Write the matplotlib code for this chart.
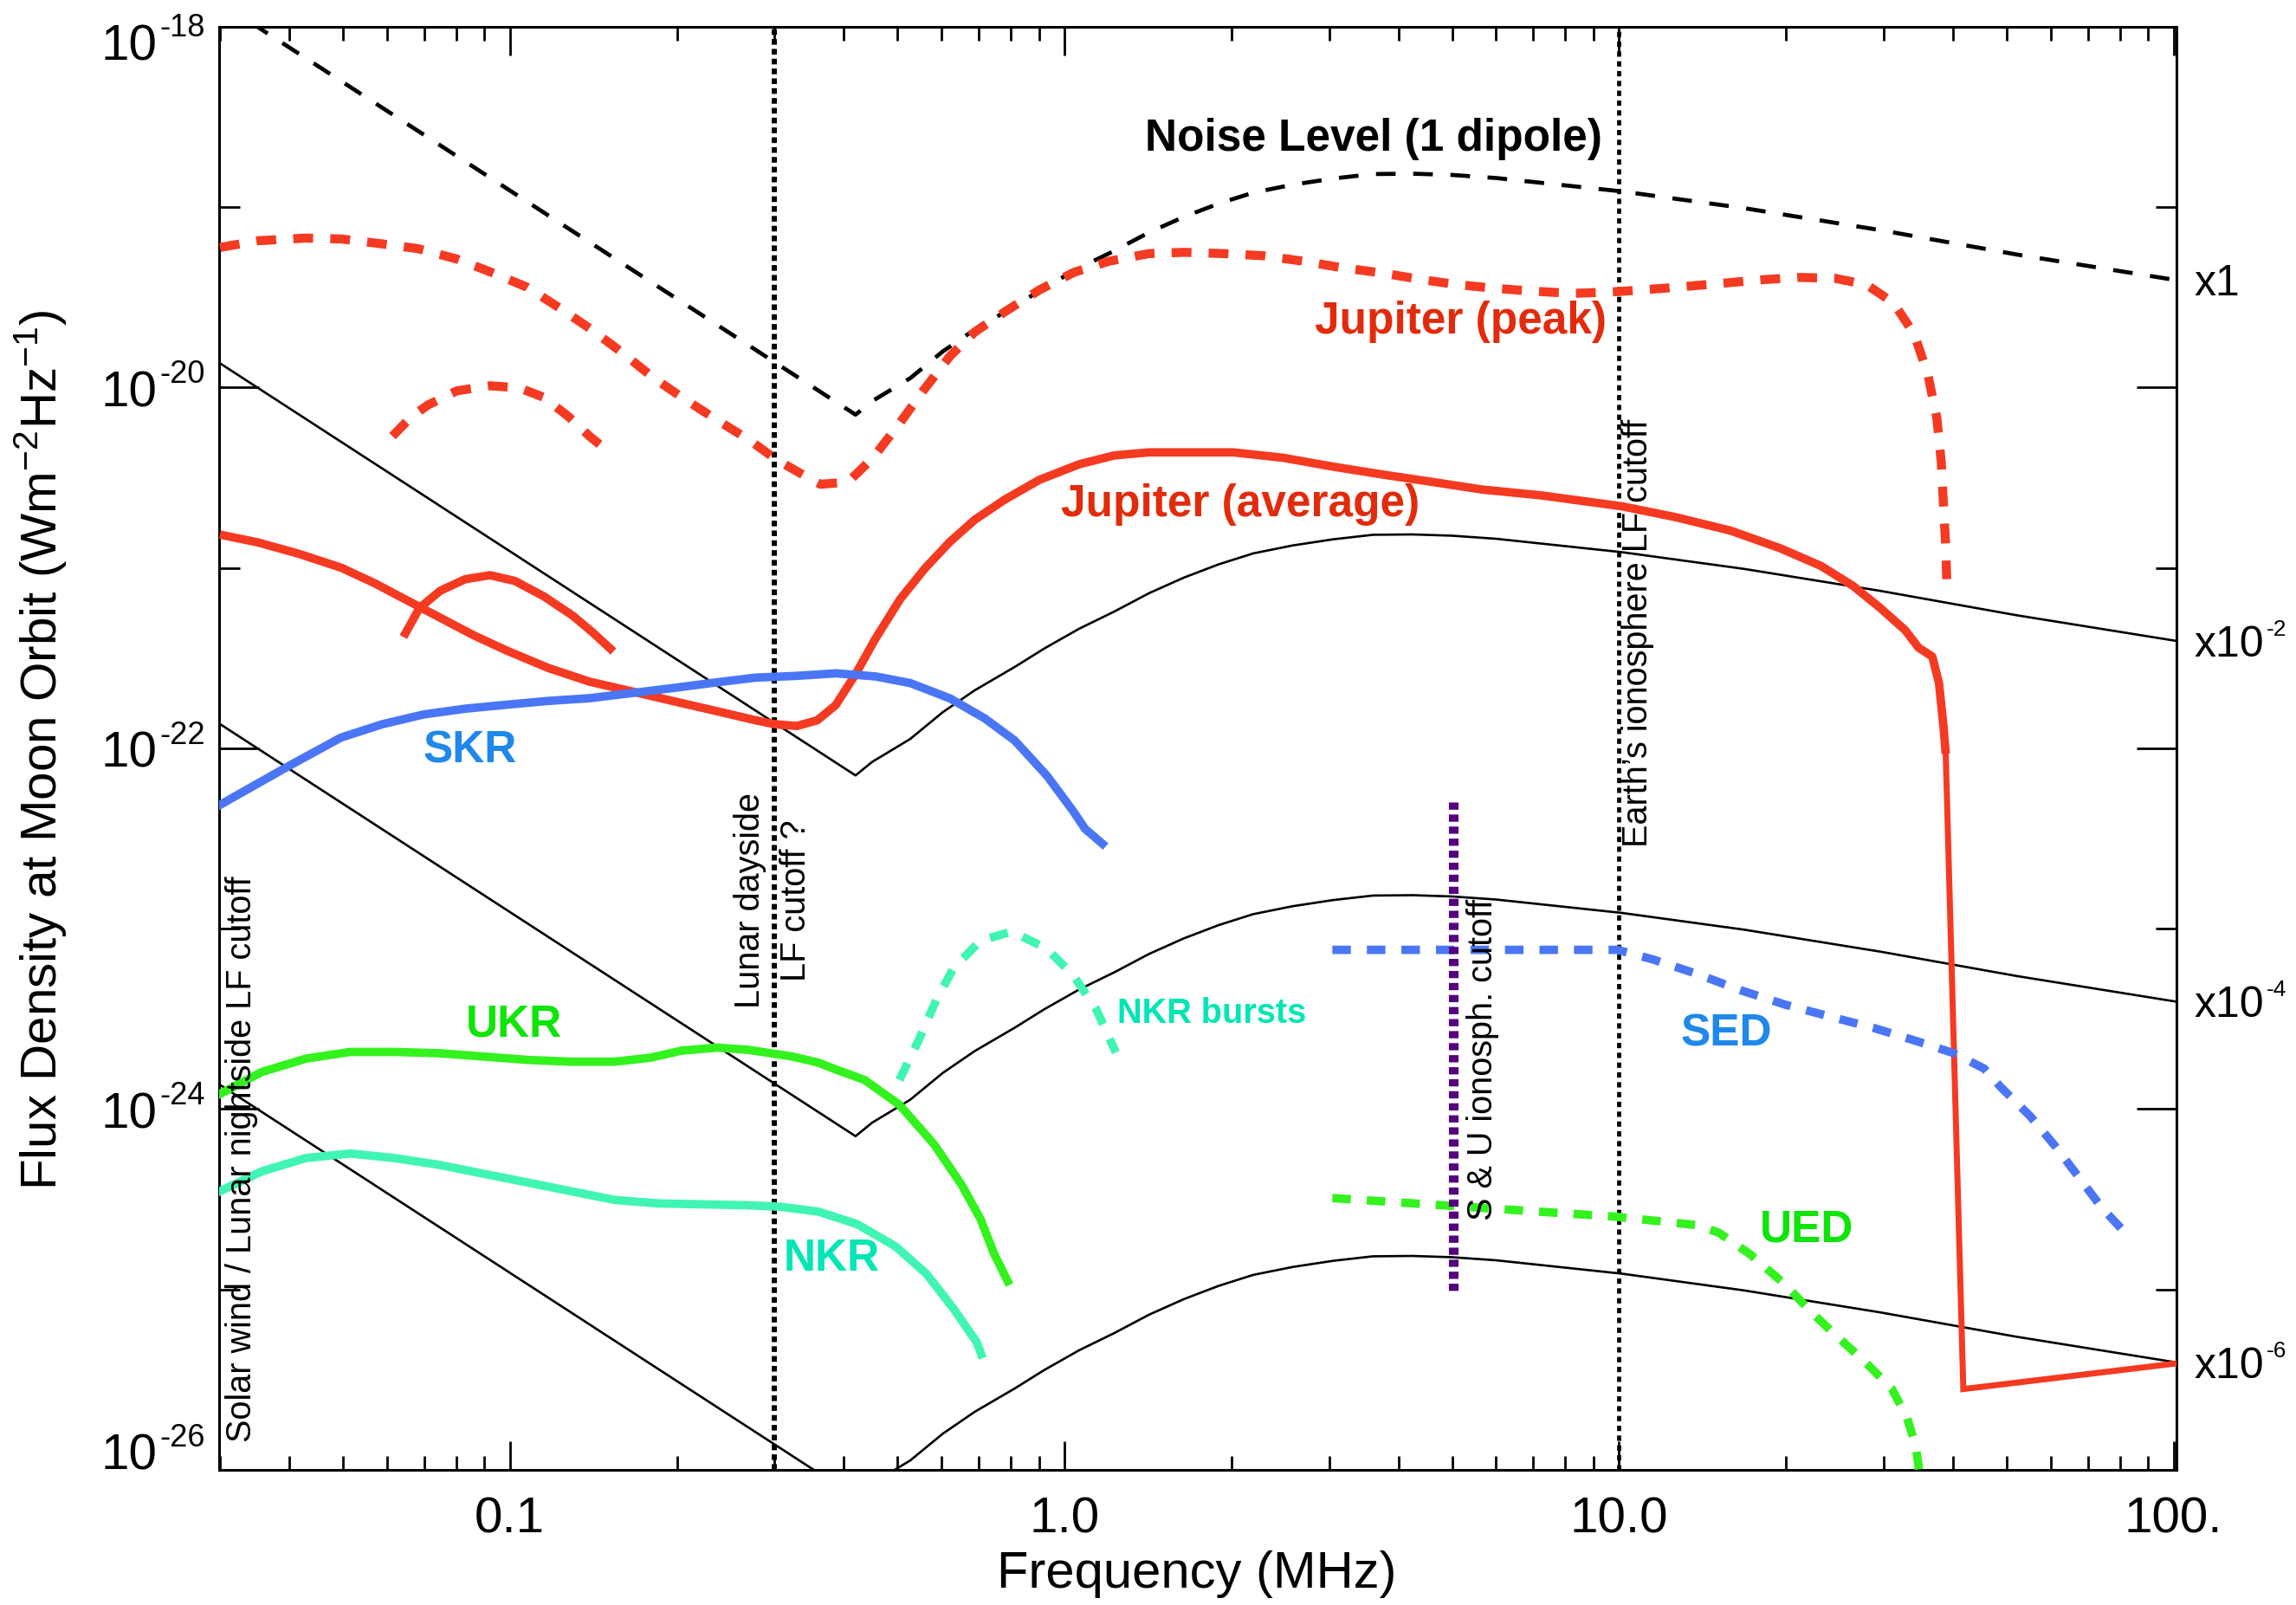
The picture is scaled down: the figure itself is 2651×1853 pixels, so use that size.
import numpy as np
import matplotlib
matplotlib.use('Agg')
import matplotlib.pyplot as plt
from matplotlib.ticker import FixedLocator, FixedFormatter, LogLocator, NullFormatter
from matplotlib.transforms import blended_transform_factory, offset_copy

# ---------------- data (frequency in MHz, flux as log10 W m^-2 Hz^-1) ----------------
noise_freq = [0.03, 0.42, 0.45, 0.527, 0.603, 0.689, 0.813, 0.92, 1.064, 1.229, 1.42, 1.64,
              1.896, 2.19, 2.58, 3.05, 3.6, 4.24, 5.0, 6.0, 10.1, 16.8, 29.6, 52.1, 101]
noise_log = [-17.865, -20.15, -20.075, -19.948, -19.80, -19.678, -19.549, -19.446, -19.336,
             -19.242, -19.14, -19.054, -18.98, -18.919, -18.875, -18.841, -18.816, -18.814,
             -18.821, -18.838, -18.912, -19.005, -19.127, -19.262, -19.404]
noise_scales = [1.0, 1e-2, 1e-4, 1e-6]
noise_scale_base = ['x1', 'x10', 'x10', 'x10']
noise_scale_exp = ['', '-2', '-4', '-6']

jp_freq = [0.03, 0.0351, 0.0428, 0.0496, 0.0584, 0.0681, 0.0802, 0.0921, 0.1075, 0.1234,
           0.1404, 0.1597, 0.1817, 0.2068, 0.2373, 0.270, 0.302, 0.3524, 0.3634, 0.4073,
           0.4516, 0.5057, 0.555, 0.6218, 0.6894, 0.7803, 0.9016, 1.042, 1.204, 1.42, 1.641,
           1.935, 2.283, 2.692, 3.177, 3.747, 4.419, 5.107, 5.90, 6.82, 8.23, 9.93, 12.21,
           15.02, 18.13, 21.08, 24.49, 27.94, 31.27, 34.05, 36.02, 37.41, 38.11, 38.47,
           38.82, 38.98]
jp_log = [-19.223, -19.186, -19.171, -19.176, -19.202, -19.229, -19.287, -19.358, -19.444,
          -19.562, -19.679, -19.808, -19.947, -20.065, -20.183, -20.290, -20.398, -20.516,
          -20.536, -20.523, -20.389, -20.193, -20.021, -19.825, -19.691, -19.580, -19.458,
          -19.360, -19.299, -19.257, -19.250, -19.257, -19.269, -19.299, -19.336, -19.365,
          -19.402, -19.429, -19.448, -19.463, -19.478, -19.468, -19.448, -19.424, -19.402,
          -19.389, -19.394, -19.429, -19.531, -19.703, -19.923, -20.168, -20.413, -20.658,
          -20.879, -21.062]

jp2_freq = [0.0614, 0.0664, 0.0711, 0.0802, 0.0921, 0.1039, 0.1151, 0.1277, 0.1391, 0.1491]
jp2_log = [-20.269, -20.162, -20.097, -20.018, -19.990, -20.001, -20.054, -20.162, -20.269, -20.344]

ja_freq = [0.03, 0.0351, 0.0417, 0.0496, 0.0569, 0.0653, 0.0749, 0.0860, 0.0987, 0.1172,
           0.1391, 0.1653, 0.1963, 0.2332, 0.2770, 0.3003, 0.3291, 0.3585, 0.3868, 0.420,
           0.456, 0.5057, 0.5607, 0.6218, 0.6894, 0.7803, 0.9016, 1.063, 1.229, 1.420, 2.017,
           2.479, 3.048, 3.747, 4.607, 5.66, 7.215, 10.12, 12.68, 15.89, 19.54, 23.14, 26.41,
           29.56, 32.79, 34.69, 36.71, 37.75, 38.47, 38.82, 41.76, 101]
ja_log = [-20.815, -20.858, -20.922, -20.998, -21.083, -21.180, -21.276, -21.373, -21.458,
          -21.554, -21.630, -21.683, -21.737, -21.790, -21.844, -21.866, -21.876, -21.844,
          -21.760, -21.589, -21.393, -21.172, -21.001, -20.854, -20.732, -20.621, -20.511,
          -20.425, -20.376, -20.359, -20.359, -20.389, -20.438, -20.482, -20.523, -20.565,
          -20.597, -20.658, -20.719, -20.793, -20.891, -20.989, -21.099, -21.221, -21.344,
          -21.442, -21.491, -21.638, -21.883, -22.030, -25.552, -25.41]

ja2_freq = [0.0648, 0.0687, 0.0749, 0.0831, 0.0921, 0.1021, 0.1151, 0.1299, 0.1416, 0.1517]
ja2_log = [-21.362, -21.222, -21.126, -21.062, -21.040, -21.072, -21.157, -21.265, -21.362, -21.447]

skr_freq = [0.0299, 0.0398, 0.0496, 0.0589, 0.0699, 0.0831, 0.0987, 0.1172, 0.1391, 0.1653,
            0.1963, 0.2332, 0.2770, 0.3291, 0.3868, 0.456, 0.527, 0.6218, 0.7183, 0.813,
            0.930, 1.038, 1.089, 1.171]
skr_log = [-22.316, -22.10, -21.940, -21.866, -21.812, -21.780, -21.758, -21.737, -21.722,
           -21.694, -21.666, -21.636, -21.608, -21.598, -21.584, -21.601, -21.638, -21.723,
           -21.834, -21.956, -22.152, -22.350, -22.446, -22.529]

ukr_freq = [0.0300, 0.0357, 0.0429, 0.0515, 0.0618, 0.0743, 0.0892, 0.1073, 0.1288, 0.1548,
            0.1792, 0.2038, 0.2361, 0.2684, 0.3225, 0.3596, 0.3875, 0.4360, 0.5039, 0.5822,
            0.6516, 0.7058, 0.7466, 0.7900]
ukr_log = [-23.916, -23.794, -23.720, -23.683, -23.683, -23.690, -23.708, -23.727, -23.737,
           -23.737, -23.715, -23.676, -23.659, -23.671, -23.708, -23.742, -23.781, -23.838,
           -23.976, -24.196, -24.417, -24.610, -24.802, -24.954]

nkr_freq = [0.0300, 0.0357, 0.0429, 0.0515, 0.0618, 0.0743, 0.0892, 0.1073, 0.1288, 0.1548,
            0.1859, 0.2234, 0.2684, 0.3064, 0.3596, 0.4223, 0.4958, 0.5637, 0.6308, 0.6948,
            0.7077]
nkr_log = [-24.455, -24.345, -24.271, -24.246, -24.271, -24.308, -24.357, -24.406, -24.455,
           -24.504, -24.523, -24.528, -24.533, -24.541, -24.568, -24.637, -24.761, -24.913,
           -25.106, -25.293, -25.359]

nkrb_freq = [0.5039, 0.5460, 0.5868, 0.6308, 0.7058, 0.8026, 0.9273, 1.038, 1.143, 1.238]
nkrb_log = [-23.838, -23.617, -23.397, -23.218, -23.066, -23.016, -23.108, -23.259, -23.452, -23.686]

sed_freq = [3.041, 9.93, 11.50, 13.81, 16.60, 19.94, 23.95, 28.79, 34.58, 40.05, 45.53,
            48.79, 55.00, 61.24, 67.44, 74.23, 83.67]
sed_log = [-23.117, -23.117, -23.170, -23.250, -23.342, -23.421, -23.486, -23.550, -23.625,
           -23.689, -23.775, -23.878, -24.036, -24.207, -24.377, -24.547, -24.718]

ued_freq = [3.041, 9.84, 13.81, 15.11, 17.22, 19.94, 22.06, 24.39, 27.68, 31.00, 33.03, 34.29, 34.73]
ued_log = [-24.493, -24.596, -24.643, -24.684, -24.804, -24.973, -25.116, -25.244, -25.397,
           -25.548, -25.708, -25.869, -25.997]

su_cutoff_freq = 5.02
su_cutoff_log = [-22.296, -25.011]
lunar_cutoff_freq = 0.3
earth_cutoff_freq = 10.0

xtick_vals = [0.1, 1.0, 10.0, 100.0]
xtick_labels = ['0.1', '1.0', '10.0', '100.']
ytick_vals = [1e-26, 1e-24, 1e-22, 1e-20, 1e-18]
ytick_exps = ['-26', '-24', '-22', '-20', '-18']
yminor_vals = [1e-25, 1e-23, 1e-21, 1e-19]

# layout: baseline offsets (px, up positive) of the y tick labels relative to their tick
ytick_label_dy = [0, -22, -22, -22, -38]

# ---------------- style ----------------
SANS = ['Liberation Sans', 'DejaVu Sans']
plt.rcParams['font.family'] = ['Liberation Sans Narrow', 'Liberation Sans', 'DejaVu Sans']
plt.rcParams['mathtext.fontset'] = 'custom'
plt.rcParams['mathtext.rm'] = 'Liberation Sans'
plt.rcParams['mathtext.default'] = 'regular'

RED = '#F53A22'
RED_TXT = '#E22B0C'
BLUE = '#4A76F5'
BLUE_TXT = '#1F88EA'
GREEN = '#33F21E'
GREEN_TXT = '#10E40A'
AQUA = '#40F5B2'
AQUA_TXT = '#00E6B4'
PURPLE = '#55007F'


def L(v):
    return np.power(10.0, np.asarray(v, dtype=float))


fig = plt.figure(figsize=(26.51, 18.53), dpi=100)
ax = fig.add_axes([0.09544, 0.08419, 0.85251, 0.89908])
ax.set_xscale('log')
ax.set_yscale('log')
ax.set_xlim(0.0299, 101.2)
ax.set_ylim(1e-26, 1e-18)

ytrans = blended_transform_factory(ax.transAxes, ax.transData)

# noise curves
nf = np.asarray(noise_freq)
for i, sc in enumerate(noise_scales):
    if i == 0:
        ax.plot(nf, L(noise_log) * sc, color='black', lw=3.4, ls=(0, (4.8, 4.3)), zorder=3)
    else:
        ax.plot(nf, L(noise_log) * sc, color='black', lw=1.9, zorder=2)
    yv = L(noise_log[-1]) * sc
    ax.text(1.0, yv, noise_scale_base[i], fontsize=36, family=SANS, ha='left', va='baseline',
            transform=offset_copy(ytrans, fig=fig, x=20, y=-18, units='dots'), clip_on=False)
    if noise_scale_exp[i]:
        ax.text(1.0, yv, noise_scale_exp[i], fontsize=19, family=SANS, ha='left', va='baseline',
                transform=offset_copy(ytrans, fig=fig, x=104, y=6, units='dots'), clip_on=False)

# vertical cutoffs
ax.axvline(lunar_cutoff_freq, color='black', lw=4.3, ls=(0, (1.1, 0.8)), zorder=4)
ax.axvline(earth_cutoff_freq, color='black', lw=3.4, ls=(0, (1.3, 1.1)), zorder=4)
ax.plot([su_cutoff_freq, su_cutoff_freq], L(su_cutoff_log), color=PURPLE, lw=8,
        ls=(0, (0.75, 0.5)), zorder=6)

# Jupiter
dash = (0, (2.2, 1.9))
ax.plot(jp_freq, L(jp_log), color=RED, lw=7.5, ls=dash, zorder=5)
ax.plot(jp2_freq, L(jp2_log), color=RED, lw=7.5, ls=dash, zorder=5)
ax.plot(ja_freq[:50], L(ja_log[:50]), color=RED, lw=7, zorder=5, solid_capstyle='butt')
ax.plot(ja_freq[49:], L(ja_log[49:]), color=RED, lw=5, zorder=5, solid_joinstyle='miter')
ax.plot(ja2_freq, L(ja2_log), color=RED, lw=7, zorder=5)

# Kronian / other
ax.plot(skr_freq, L(skr_log), color=BLUE, lw=7, zorder=5)
ax.plot(ukr_freq, L(ukr_log), color=GREEN, lw=7, zorder=5)
ax.plot(nkr_freq, L(nkr_log), color=AQUA, lw=7, zorder=5)
ax.plot(nkrb_freq, L(nkrb_log), color=AQUA, lw=7, ls=dash, zorder=5)
ax.plot(sed_freq, L(sed_log), color=BLUE, lw=7, ls=dash, zorder=5)
ax.plot(ued_freq, L(ued_log), color=GREEN, lw=7, ls=dash, zorder=5)

# labels
bold = dict(fontweight='bold', family=SANS, ha='center', va='center', zorder=8)
ax.text(3.61, 2.39e-19, 'Noise Level (1 dipole)', color='black', fontsize=37, **bold)
ax.text(5.18, 2.31e-20, 'Jupiter (peak)', color=RED_TXT, fontsize=37, **bold)
ax.text(2.075, 2.24e-21, 'Jupiter (average)', color=RED_TXT, fontsize=37, **bold)
ax.text(0.0848, 9.7e-23, 'SKR', color=BLUE_TXT, fontsize=37, **bold)
ax.text(0.1017, 2.95e-24, 'UKR', color=GREEN_TXT, fontsize=37, **bold)
ax.text(0.380, 1.476e-25, 'NKR', color=AQUA_TXT, fontsize=37, **bold)
ax.text(1.843, 3.40e-24, 'NKR bursts', color=AQUA_TXT, fontsize=28.5, **bold)
ax.text(15.63, 2.61e-24, 'SED', color=BLUE_TXT, fontsize=37, **bold)
ax.text(21.8, 2.15e-25, 'UED', color=GREEN_TXT, fontsize=37, **bold)

rot = dict(family=SANS, fontsize=28.5, rotation=90, color='black', zorder=8)
ax.text(0.0328, 1.43e-26, 'Solar wind / Lunar nightside LF cutoff', ha='center', va='bottom', **rot)
ax.text(0.2976, 1.432e-23, 'Lunar dayside\nLF cutoff ?', ha='center', va='center',
        multialignment='center', linespacing=1.5, **rot)
ax.text(5.675, 1.89e-24, 'S & U ionosph. cutoff', ha='center', va='center', **rot)
ax.text(10.81, 4.36e-22, 'Earth\u2019s ionosphere LF cutoff', ha='center', va='center', **rot)

# axes / ticks
ax.xaxis.set_major_locator(FixedLocator(xtick_vals))
ax.xaxis.set_major_formatter(FixedFormatter(xtick_labels))
ax.xaxis.set_minor_locator(LogLocator(base=10, subs=np.arange(2, 10), numticks=30))
ax.xaxis.set_minor_formatter(NullFormatter())
ax.yaxis.set_major_locator(FixedLocator(ytick_vals))
ax.yaxis.set_major_formatter(NullFormatter())
ax.yaxis.set_minor_locator(FixedLocator(yminor_vals))
ax.yaxis.set_minor_formatter(NullFormatter())
ax.tick_params(which='both', direction='in', top=True, right=True, width=2, color='black')
ax.tick_params(axis='x', which='major', length=24, pad=22, labelsize=42)
ax.tick_params(axis='x', which='minor', length=11.5)
ax.tick_params(axis='y', which='major', length=33)
ax.tick_params(axis='y', which='minor', length=17)
for s in ax.spines.values():
    s.set_linewidth(2.2)

# y tick labels: "10" with a small superscript exponent
for val, ex, dy in zip(ytick_vals, ytick_exps, ytick_label_dy):
    ax.text(0.0, val, '10', fontsize=42, family=SANS, ha='right', va='baseline',
            transform=offset_copy(ytrans, fig=fig, x=-72, y=dy, units='dots'), clip_on=False)
    ax.text(0.0, val, ex, fontsize=26, family=SANS, ha='left', va='baseline',
            transform=offset_copy(ytrans, fig=fig, x=-69, y=dy + 27, units='dots'), clip_on=False)

fig.text(0.5213, 0.0189, 'Frequency (MHz)', ha='center', va='center', fontsize=43, family=SANS)
fig.text(0.0177, 0.5327, r'Flux Density at Moon Orbit (Wm$^{-2}$Hz$^{-1}$)', ha='center',
         va='center', rotation=90, fontsize=42, family=SANS)

fig.savefig('out.png', dpi=100)
